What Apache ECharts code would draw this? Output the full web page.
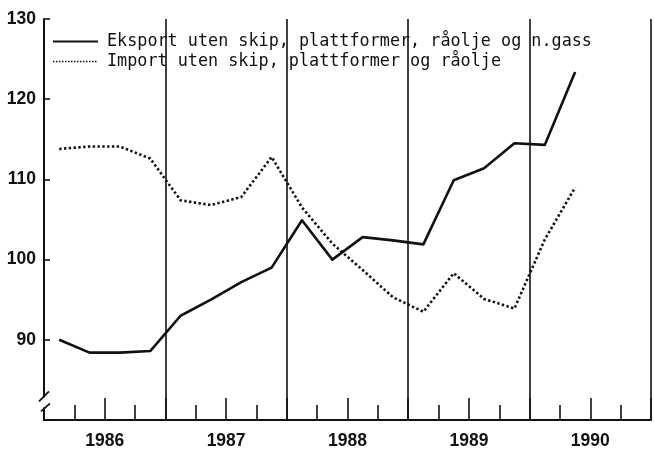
<!DOCTYPE html>
<html>
<head>
<meta charset="utf-8">
<script src="https://cdn.jsdelivr.net/npm/echarts@6/dist/echarts.min.js"></script>
<style>
  html, body { margin: 0; padding: 0; background: #fff; }
  #chart { width: 654px; height: 450px; }
</style>
</head>
<body>
<div id="chart"></div>
<script>
// Quarterly periods, 1986 Q1 – 1990 Q2
const periods = [
  '1986-1', '1986-2', '1986-3', '1986-4',
  '1987-1', '1987-2', '1987-3', '1987-4',
  '1988-1', '1988-2', '1988-3', '1988-4',
  '1989-1', '1989-2', '1989-3', '1989-4',
  '1990-1', '1990-2'
];
const years = [1986, 1987, 1988, 1989, 1990];

const eksportName = 'Eksport uten skip, plattformer, råolje og n.gass';
const importName = 'Import uten skip, plattformer og råolje';

const eksport = [90.0, 88.4, 88.4, 88.6, 93.0, 95.0, 97.2, 99.0, 104.9, 100.0, 102.8, 102.4, 101.9, 109.9, 111.4, 114.5, 114.3, 123.4];
const importValues = [113.8, 114.1, 114.1, 112.6, 107.4, 106.8, 107.8, 112.8, 106.5, 102.0, 98.7, 95.3, 93.5, 98.3, 95.1, 93.9, 102.5, 109.0];

const yMin = 80, yMax = 130, yStep = 10;
const breakAt = 82.2; // where the axis break mark sits

// place each quarter in the middle of its span on a continuous year scale
function periodPos(p) {
  const [y, q] = p.split('-').map(Number);
  return y + (q - 0.5) / 4;
}
const pairs = vals => vals.map((v, i) => [periodPos(periods[i]), v]);

const chart = echarts.init(document.getElementById('chart'), null, { renderer: 'canvas' });
const ink = '#111';
const labelFont = { fontFamily: 'Liberation Sans', fontWeight: 'bold', fontSize: 17.5, color: ink };
const hiddenSymbol = { opacity: 0, borderWidth: 0 };

chart.setOption({
  backgroundColor: '#fff',
  animation: false,
  grid: { left: 44, right: 1, top: 19, bottom: 28 },
  legend: {
    orient: 'vertical',
    left: 52,
    top: 33,
    padding: 0,
    itemWidth: 45,
    itemHeight: 14,
    itemGap: 3,
    selectedMode: false,
    textStyle: { fontFamily: 'DejaVu Sans Mono', fontSize: 16.8, color: ink, padding: [0, 0, 0, 4] },
    data: [
      { name: eksportName, itemStyle: hiddenSymbol, lineStyle: { width: 2, type: 'solid', color: ink } },
      { name: importName, itemStyle: hiddenSymbol, lineStyle: { width: 1.3, type: [1.5, 1.5], color: ink } }
    ]
  },
  xAxis: [
    {
      type: 'value',
      min: years[0],
      max: years[years.length - 1] + 1,
      interval: 0.5,
      axisLine: { show: true, lineStyle: { color: ink, width: 2 } },
      axisTick: { show: true, inside: true, length: 22, lineStyle: { color: ink, width: 1.6 } },
      minorTick: { show: true, splitNumber: 2, length: 15, lineStyle: { color: ink, width: 1.6 } },
      splitLine: { show: false },
      axisLabel: {
        ...labelFont,
        margin: 12,
        formatter: v => (Math.abs(v % 1 - 0.5) < 1e-6 ? String(Math.floor(v)) : '')
      }
    },
    {
      type: 'value',
      position: 'top',
      min: years[0],
      max: years[years.length - 1] + 1,
      interval: 1,
      axisLine: { show: false },
      axisTick: { show: false },
      axisLabel: { show: false },
      splitLine: { show: true, lineStyle: { color: ink, width: 1.6 } }
    }
  ],
  yAxis: {
    type: 'value',
    min: yMin,
    max: yMax,
    interval: yStep,
    axisLine: { show: true, lineStyle: { color: ink, width: 2 } },
    axisTick: { show: true, inside: true, length: 6, lineStyle: { color: ink, width: 1.6 } },
    splitLine: { show: false },
    axisLabel: {
      ...labelFont,
      margin: 8,
      formatter: v => (v === yMin ? '' : String(v))
    }
  },
  series: [
    {
      name: eksportName,
      type: 'line',
      data: pairs(eksport),
      symbol: 'none',
      lineStyle: { color: ink, width: 2.6, join: 'round' },
      itemStyle: { color: ink }
    },
    {
      name: importName,
      type: 'line',
      data: pairs(importValues),
      symbol: 'none',
      lineStyle: { color: ink, width: 2.6, type: [2.4, 2.4] },
      itemStyle: { color: ink }
    }
  ]
});

// axis break mark "//" on the value axis
const [bx, by] = chart.convertToPixel({ gridIndex: 0 }, [years[0], breakAt]);
chart.setOption({
  graphic: [
    { type: 'rect', shape: { x: bx - 3, y: by - 5, width: 6, height: 10 }, style: { fill: '#fff' }, z: 100 },
    { type: 'line', shape: { x1: bx - 5, y1: by - 1, x2: bx + 5, y2: by - 11 }, style: { stroke: ink, lineWidth: 1.8 }, z: 101 },
    { type: 'line', shape: { x1: bx - 3, y1: by + 9, x2: bx + 6, y2: by + 1 }, style: { stroke: ink, lineWidth: 1.8 }, z: 101 }
  ]
});
</script>
</body>
</html>
